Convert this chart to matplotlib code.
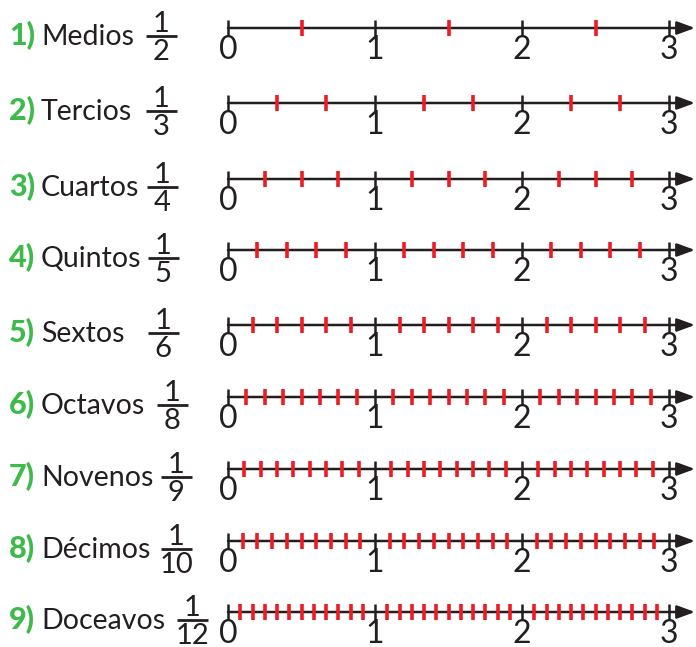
import matplotlib
matplotlib.use("Agg")
import matplotlib.pyplot as plt

# ---- data ----
item_numbers = ['1)', '2)', '3)', '4)', '5)', '6)', '7)', '8)', '9)']
names = ['Medios', 'Tercios', 'Cuartos', 'Quintos', 'Sextos',
         'Octavos', 'Novenos', 'Décimos', 'Doceavos']
denominators = [2, 3, 4, 5, 6, 8, 9, 10, 12]
integer_labels = ['0', '1', '2', '3']
x_max = 3

# ---- layout (pixels) ----
W, H = 696, 647
PX_ZERO = 228.0      # pixel of x = 0
PX_UNIT = 147.0      # pixels per unit
row_y = [28, 103, 179, 250, 325, 397, 469, 541, 612]
frac_center_px = [161, 161, 162, 163, 163, 172, 176, 176, 192]

DARK = '#231f20'
RED = '#ed1c24'
GREEN = '#3dba4a'
FONT = 'Lato'

def px2x(p):
    return (p - PX_ZERO) / PX_UNIT

fig = plt.figure(figsize=(W / 100, H / 100), dpi=100)
ax = fig.add_axes([0, 0, 1, 1])
ax.set_xlim(px2x(0), px2x(W))
ax.set_ylim(H, 0)
ax.axis('off')

for i, n in enumerate(denominators):
    y = row_y[i]
    # axis line with arrow
    ax.annotate('', xy=(px2x(695), y), xytext=(0, y),
                arrowprops=dict(arrowstyle='-|>,head_length=0.6,head_width=0.22',
                                lw=1.8, color=DARK, mutation_scale=18,
                                shrinkA=0, shrinkB=0))
    # integer ticks
    ints = list(range(0, x_max + 1))
    ax.plot(ints, [y] * len(ints), ls='none', marker='|', ms=11, mew=1.8,
            color=DARK, zorder=3)
    # fraction ticks
    fr = [k / n for k in range(1, x_max * n) if k % n != 0]
    ax.plot(fr, [y] * len(fr), ls='none', marker='|', ms=12, mew=2.6,
            color=RED, zorder=4)
    # integer labels
    for v, lab in zip(ints, integer_labels):
        ax.text(v, y + 31, lab, ha='center', va='baseline', fontsize=23,
                family=FONT, color=DARK)
    # left labels
    ax.text(px2x(9), y + 17, item_numbers[i], ha='left', va='baseline',
            fontsize=22, family=FONT, weight='black', color=GREEN)
    ax.text(px2x(41), y + 17, names[i], ha='left', va='baseline',
            fontsize=20.5, family=FONT, color=DARK)
    # fraction 1/n
    xc = px2x(frac_center_px[i])
    hw = 15.5 / PX_UNIT
    ax.plot([xc - hw, xc + hw], [y + 7.5, y + 7.5], color=DARK, lw=2,
            solid_capstyle='butt')
    ax.text(xc, y + 4, '1', ha='center', va='baseline', fontsize=21,
            family=FONT, color=DARK)
    ax.text(xc, y + 32, str(n), ha='center', va='baseline', fontsize=21,
            family=FONT, color=DARK)

fig.savefig('out.png', dpi=100)
